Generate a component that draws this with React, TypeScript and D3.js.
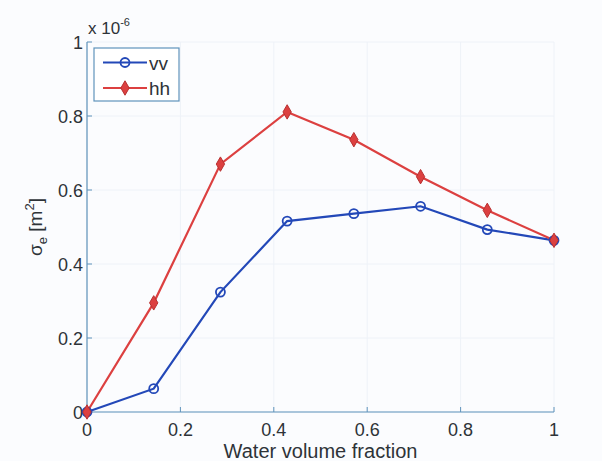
import * as d3 from 'd3';

const fractions = [0, 1 / 7, 2 / 7, 3 / 7, 4 / 7, 5 / 7, 6 / 7, 1];
const vvValues = [0, 0.063, 0.324, 0.516, 0.536, 0.556, 0.493, 0.464];
const hhValues = [0, 0.295, 0.67, 0.811, 0.736, 0.636, 0.545, 0.464];
const xTicks = [0, 0.2, 0.4, 0.6, 0.8, 1];
const yTicks = [0, 0.2, 0.4, 0.6, 0.8, 1];
const seriesNames = ['vv', 'hh'];

const W = 602;
const H = 461;
const margin = { left: 87, right: 48, top: 42, bottom: 49 };
const font = 'Liberation Sans, Arial, sans-serif';
const axisColor = '#5f93bb';
const textColor = '#2e3338';
const blue = '#2348b8';
const red = '#dc4040';

export default function App() {
    const x = d3.scaleLinear().domain([0, 1]).range([margin.left, W - margin.right]);
    const y = d3.scaleLinear().domain([0, 1]).range([H - margin.bottom, margin.top]);

    const line = d3
        .line<number>()
        .x((_, i) => x(fractions[i]))
        .y(d => y(d));

    const diamond = d3.symbol().type(d3.symbolDiamond).size(60)();

    return (
        <svg
            width={W}
            height={H}
            style={{ position: 'absolute', left: 0, top: 0, background: '#fbfcfe' }}
        >
            {/* faint grid */}
            {xTicks.map(t => (
                <line key={'gx' + t} x1={x(t)} x2={x(t)} y1={y(0)} y2={y(1)} stroke="#eef2f8" />
            ))}
            {yTicks.map(t => (
                <line key={'gy' + t} x1={x(0)} x2={x(1)} y1={y(t)} y2={y(t)} stroke="#eef2f8" />
            ))}

            {/* axes */}
            <line x1={x(0)} x2={x(0)} y1={y(0)} y2={y(1)} stroke={axisColor} strokeWidth={1.2} />
            <line x1={x(0)} x2={x(1)} y1={y(0)} y2={y(0)} stroke={axisColor} strokeWidth={1.2} />
            {xTicks.map(t => (
                <g key={'xt' + t}>
                    <line x1={x(t)} x2={x(t)} y1={y(0)} y2={y(0) - 5} stroke={axisColor} />
                    <text
                        x={x(t)}
                        y={y(0) + 24}
                        textAnchor="middle"
                        fontFamily={font}
                        fontSize={18}
                        fill={textColor}
                    >
                        {String(t)}
                    </text>
                </g>
            ))}
            {yTicks.map(t => (
                <g key={'yt' + t}>
                    <line x1={x(0)} x2={x(0) + 5} y1={y(t)} y2={y(t)} stroke={axisColor} />
                    <text
                        x={x(0) - 4}
                        y={y(t) + 7}
                        textAnchor="end"
                        fontFamily={font}
                        fontSize={18}
                        fill={textColor}
                    >
                        {String(t)}
                    </text>
                </g>
            ))}

            {/* exponent */}
            <text x={x(0) + 1} y={y(1) - 8} fontFamily={font} fontSize={17} fill={textColor}>
                x 10
                <tspan dy={-8} fontSize={11}>-6</tspan>
            </text>

            {/* axis labels */}
            <text
                x={(x(0) + x(1)) / 2}
                y={H - 3}
                textAnchor="middle"
                fontFamily={font}
                fontSize={20}
                fill={textColor}
            >
                Water volume fraction
            </text>
            <text
                transform={`translate(42, ${(y(0) + y(1)) / 2}) rotate(-90)`}
                textAnchor="middle"
                fontFamily={font}
                fontSize={19}
                fill={textColor}
            >
                σ<tspan dy={5} fontSize={13}>e</tspan>
                <tspan dy={-5}> [m</tspan>
                <tspan dy={-8} fontSize={13}>2</tspan>
                <tspan dy={8}>]</tspan>
            </text>

            {/* series */}
            <path d={line(vvValues) ?? ''} fill="none" stroke={blue} strokeWidth={2.2} />
            <path d={line(hhValues) ?? ''} fill="none" stroke={red} strokeWidth={2.2} />
            {vvValues.map((v, i) => (
                <circle
                    key={'vv' + i}
                    cx={x(fractions[i])}
                    cy={y(v)}
                    r={4.5}
                    fill="none"
                    stroke={blue}
                    strokeWidth={1.8}
                />
            ))}
            {hhValues.map((v, i) => (
                <path
                    key={'hh' + i}
                    d={diamond ?? ''}
                    transform={`translate(${x(fractions[i])},${y(v)})`}
                    fill={red}
                    stroke="#b83030"
                    strokeWidth={1}
                />
            ))}

            {/* legend */}
            <g>
                <rect x={94} y={48} width={85} height={53} fill="#ffffff" stroke={axisColor} strokeWidth={1.2} />
                {seriesNames.map((name, i) => {
                    const ly = 62.5 + i * 25.5;
                    const c = i === 0 ? blue : red;
                    return (
                        <g key={name}>
                            <line x1={103} x2={147} y1={ly} y2={ly} stroke={c} strokeWidth={2.2} />
                            {i === 0 ? (
                                <circle cx={125} cy={ly} r={4.5} fill="none" stroke={c} strokeWidth={1.8} />
                            ) : (
                                <path
                                    d={diamond ?? ''}
                                    transform={`translate(125,${ly})`}
                                    fill={c}
                                    stroke="#b83030"
                                />
                            )}
                            <text x={149} y={ly + 7} fontFamily={font} fontSize={19} fill={textColor}>
                                {name}
                            </text>
                        </g>
                    );
                })}
            </g>
        </svg>
    );
}
